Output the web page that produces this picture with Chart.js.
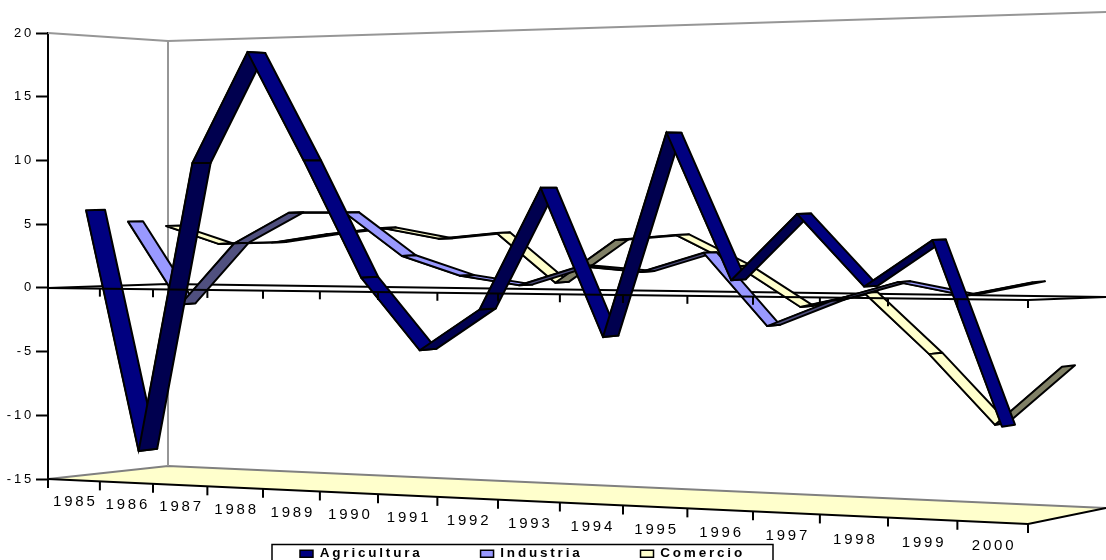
<!DOCTYPE html>
<html>
<head>
<meta charset="utf-8">
<style>
  html, body { margin: 0; padding: 0; background: #fff; }
  canvas { display: block; }
</style>
<script src="https://cdn.jsdelivr.net/npm/chart.js@4"></script>
</head>
<body>
<canvas id="chart" width="1106" height="560"></canvas>
<script>
const years = ['1985', '1986', '1987', '1988', '1989', '1990', '1991', '1992', '1993', '1994', '1995', '1996', '1997', '1998', '1999', '2000'];
const agricultura = [6.1, -12.8, 9.8, 18.5, 10, 0.8, -4.9, -1.7, 7.85, -3.85, 12.2, 0.6, 5.8, 0.1, 3.75, -10.9];
const industria = [5.2, -1.3, 3.5, 5.9, 5.9, 2.5, 0.95, 0.2, 1.7, 1.25, 2.75, -3, -1, 0.45, -0.6, 0.45];
const comercio = [4.85, 3.45, 3.55, 4.2, 4.7, 3.85, 4.3, 0.4, 3.75, 4.15, 1.7, -1.5, -0.4, -5.2, -10.75, -6.2];

const TEXT_SPACING = '2.8px';

// front edge of the floor: category boundaries widen towards the viewer on the right
function floorX(k) {
  return 48 + 51.25 * k + 0.625 * k * k;
}

function floorY(x) {
  return 479 + (x - 48) * 45 / 980;
}

// category axis that follows the perspective of one depth lane of the 3D box
class DepthScale extends Chart.CategoryScale {
  static id = 'depth';
  static defaults = Chart.CategoryScale.defaults;

  getPixelForValue(value) {
    const o = this.options;
    const c = (o.lastPx - o.firstPx - 15 * 52) / 225;
    return o.firstPx + 52 * value + c * value * value;
  }
}
Chart.register(DepthScale);

function line(ctx, points, color, width) {
  ctx.beginPath();
  points.forEach((p, i) => (i ? ctx.lineTo(p[0], p[1]) : ctx.moveTo(p[0], p[1])));
  ctx.strokeStyle = color;
  ctx.lineWidth = width;
  ctx.stroke();
}

const box3d = {
  id: 'box3d',
  beforeUpdate(chart) {
    chart.ctx.letterSpacing = TEXT_SPACING;
  },
  afterLayout(chart) {
    const legend = chart.legend;
    legend.left = 242;
    legend.right = 1106;
    legend.top = 489;
    legend.bottom = 560;
  },
  beforeDatasetsDraw(chart) {
    const ctx = chart.ctx;
    ctx.save();
    ctx.beginPath();
    ctx.moveTo(48, 479);
    ctx.lineTo(168, 466);
    ctx.lineTo(1106, 508);
    ctx.lineTo(1028, 524);
    ctx.closePath();
    ctx.fillStyle = '#ffffcc';
    ctx.fill();
    line(ctx, [[48, 479], [168, 466], [1106, 508]], '#808080', 2);
    line(ctx, [[48, 479], [1028, 524], [1106, 508]], '#000', 2);
    line(ctx, [[48, 33], [168, 41], [1106, 12]], '#969696', 2);
    line(ctx, [[168, 41], [168, 466]], '#969696', 2);
    line(ctx, [[48, 288], [168, 284], [1106, 297]], '#000', 1.8);

    years.forEach((year, k) => {
      const x = floorX(k + 0.5);
      ctx.font = '15px "Liberation Sans", Arial, sans-serif';
      ctx.fillStyle = '#000';
      ctx.textAlign = 'center';
      ctx.textBaseline = 'middle';
      ctx.fillText(year, x + 1.5, 502 + (x - 74) * 0.048);
    });
    for (let k = 0; k <= years.length; k++) {
      const x = floorX(k);
      line(ctx, [[x, floorY(x)], [x, floorY(x) + 9]], '#000', 2);
    }
    ctx.restore();
  },
  // the ribbon of each series: one quad per year interval, extruded backwards
  afterDatasetDraw(chart, args) {
    const ctx = chart.ctx;
    const dataset = chart.data.datasets[args.index];
    const points = args.meta.data;
    const back = (p, i) => {
      const w = dataset.ribbonStart + (dataset.ribbonEnd - dataset.ribbonStart) * i / 15;
      return [p.x + w, p.y + (170 - p.y) * 0.008];
    };
    ctx.save();
    ctx.lineJoin = 'round';
    for (let i = 0; i < points.length - 1; i++) {
      const a = points[i];
      const b = points[i + 1];
      const aBack = back(a, i);
      const bBack = back(b, i + 1);
      ctx.beginPath();
      ctx.moveTo(a.x, a.y);
      ctx.lineTo(b.x, b.y);
      ctx.lineTo(bBack[0], bBack[1]);
      ctx.lineTo(aBack[0], aBack[1]);
      ctx.closePath();
      ctx.fillStyle = b.y < a.y ? dataset.shade : dataset.backgroundColor;
      ctx.fill();
      ctx.strokeStyle = '#000';
      ctx.lineWidth = 2;
      ctx.stroke();
    }
    ctx.restore();
  },
  afterDatasetsDraw(chart) {
    const ctx = chart.ctx;
    ctx.save();
    line(ctx, [[48, 288], [1028, 300], [1106, 297]], '#000', 1.8);
    for (let k = 1; k <= years.length; k++) {
      const x = floorX(k);
      const y = 288 + (x - 48) * 12 / 980;
      line(ctx, [[x, y], [x, y + 8]], '#000', 2);
    }
    ctx.restore();
  },
  afterDraw(chart) {
    const ctx = chart.ctx;
    ctx.save();
    ctx.strokeStyle = '#000';
    ctx.lineWidth = 1.5;
    ctx.strokeRect(272, 544.5, 501, 20);
    ctx.restore();
  }
};

new Chart(document.getElementById('chart'), {
  type: 'line',
  plugins: [box3d],
  data: {
    labels: years,
    datasets: [
      { label: 'Agricultura', data: agricultura, xAxisID: 'xFront', backgroundColor: '#000080', shade: '#00004f', ribbonStart: 19, ribbonEnd: 13 },
      { label: 'Industria', data: industria, xAxisID: 'xMiddle', backgroundColor: '#9999ff', shade: '#50507f', ribbonStart: 15, ribbonEnd: 12 },
      { label: 'Comercio', data: comercio, xAxisID: 'xBack', backgroundColor: '#ffffcc', shade: '#808066', ribbonStart: 14, ribbonEnd: 13 }
    ].map((d) => ({ ...d, borderColor: '#000', borderWidth: 1.5, pointRadius: 0, tension: 0, fill: false }))
  },
  options: {
    responsive: false,
    animation: false,
    devicePixelRatio: 1,
    layout: { padding: { top: 33, bottom: 61, left: 0, right: 0 } },
    scales: {
      xFront: { type: 'depth', axis: 'x', display: false, firstPx: 86, lastPx: 1002 },
      xMiddle: { type: 'depth', axis: 'x', display: false, firstPx: 128, lastPx: 1033 },
      xBack: { type: 'depth', axis: 'x', display: false, firstPx: 166, lastPx: 1062 },
      y: {
        min: -15,
        max: 20,
        afterFit: (scale) => { scale.width = 48; },
        border: { color: '#000', width: 2 },
        grid: { drawOnChartArea: false, color: '#000', tickLength: 12, tickWidth: 2 },
        ticks: {
          stepSize: 5,
          color: '#000',
          padding: 2,
          font: { family: '"Liberation Sans", Arial, sans-serif', size: 13 }
        }
      }
    },
    plugins: {
      tooltip: { enabled: false },
      legend: {
        position: 'bottom',
        align: 'start',
        maxHeight: 20,
        labels: {
          boxWidth: 13,
          boxHeight: 7,
          padding: 58,
          color: '#000',
          font: { family: '"Liberation Sans", Arial, sans-serif', size: 13.5, weight: 'bold' }
        }
      }
    }
  }
});
</script>
</body>
</html>
